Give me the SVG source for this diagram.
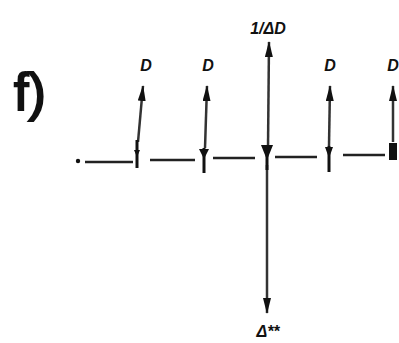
<svg xmlns="http://www.w3.org/2000/svg" width="399" height="343" viewBox="0 0 399 343">
<defs>
<marker id="ah2" viewBox="0 0 16 8" refX="15" refY="4" markerWidth="16" markerHeight="8" markerUnits="userSpaceOnUse" orient="auto">
<path d="M0,0 L16,4 L0,8 z" fill="#111"/>
</marker>
</defs>
<style>
.ln{stroke:#222;stroke-width:2.5;fill:none}
.ar{stroke:#333;stroke-width:2.5;fill:none;marker-end:url(#ah2)}
.lbl{font-family:"Liberation Sans",Arial,sans-serif;font-weight:bold;font-style:italic;fill:#111;font-size:16px;text-anchor:middle}
.tk{stroke:#111;stroke-width:3;fill:none}
.hd{fill:#111}
</style>
<rect width="399" height="343" fill="#fff"/>
<text x="30" y="110" font-family="Liberation Sans, Arial, sans-serif" font-size="52" fill="#111" stroke="#111" stroke-width="2" text-anchor="middle">f)</text>
<g id="connectors">
<circle cx="78" cy="161" r="2.2" fill="#111"/>
<line class="ln" x1="85" y1="162" x2="133" y2="162"/>
<line class="ln" x1="150" y1="160" x2="195" y2="160"/>
<line class="ln" x1="213" y1="158" x2="255" y2="158"/>
<line class="ln" x1="275" y1="157" x2="317" y2="157"/>
<line class="ln" x1="343" y1="155" x2="385" y2="155"/>
<line class="ar" x1="138" y1="142" x2="143" y2="86"/>
<line class="ar" x1="205" y1="148" x2="207" y2="86"/>
<line class="ar" x1="268" y1="148" x2="269" y2="42"/>
<line class="ar" x1="329" y1="146" x2="330" y2="86"/>
<line class="ar" x1="393" y1="142" x2="393" y2="86"/>
<line class="ar" x1="267" y1="165" x2="267" y2="313"/>
</g>
<g id="n1"><line class="tk" x1="137" y1="140" x2="137" y2="168"/><path class="hd" d="M134,150 L140,150 L137,157 z"/></g>
<g id="n2"><line class="tk" x1="204" y1="148" x2="204" y2="173"/><path class="hd" d="M199,149 L209,149 L204,159 z"/></g>
<g id="n3"><line class="tk" x1="267" y1="146" x2="267" y2="170"/><path class="hd" d="M261,145 L273,145 L267,160 z"/></g>
<g id="n4"><line class="tk" x1="329" y1="146" x2="329" y2="172"/><path class="hd" d="M325,147 L333,147 L329,158 z"/></g>
<g id="n5"><rect class="hd" x="389" y="143" width="8" height="17"/></g>
<g id="labels">
<text class="lbl" x="146" y="71">D</text>
<text class="lbl" x="208" y="71">D</text>
<text class="lbl" x="268" y="34">1/ΔD</text>
<text class="lbl" x="330" y="71">D</text>
<text class="lbl" x="393" y="71">D</text>
<text class="lbl" x="268" y="337">Δ**</text>
</g>
</svg>
